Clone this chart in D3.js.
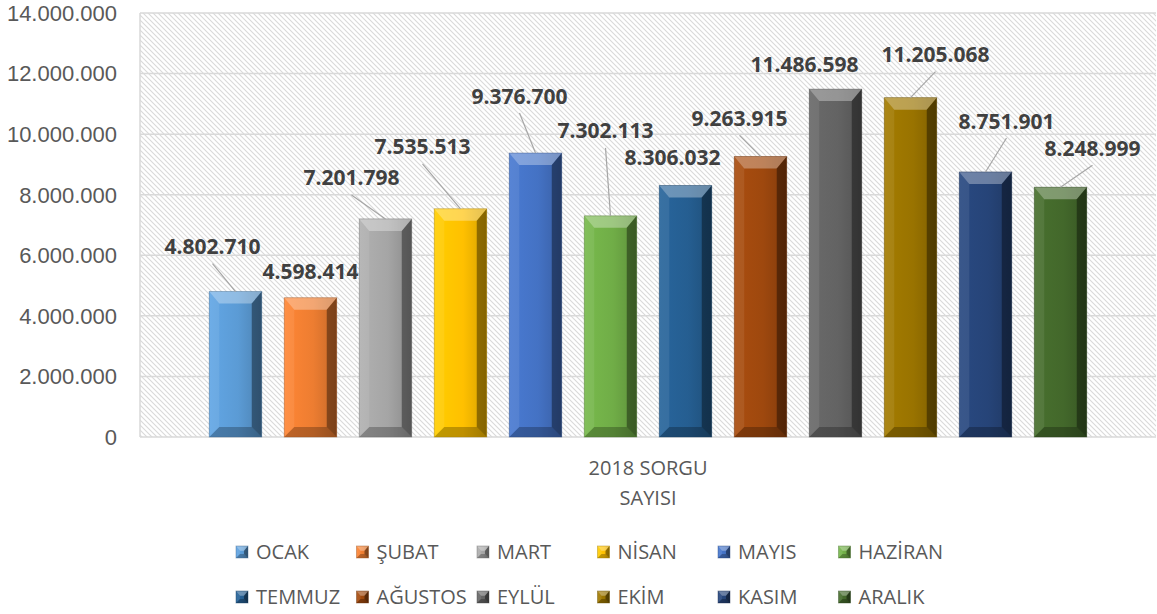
<!DOCTYPE html>
<html>
<head>
<meta charset="utf-8">
<script src="https://cdn.jsdelivr.net/npm/d3@7"></script>
<style>
    body { margin: 0; background: #ffffff; }
    svg { display: block; font-family: "Open Sans", sans-serif; }
</style>
</head>
<body>
<svg id="chart"></svg>
<script>
// Months (one series each) and their 2018 query counts
var months = ["OCAK", "ŞUBAT", "MART", "NİSAN", "MAYIS", "HAZİRAN",
    "TEMMUZ", "AĞUSTOS", "EYLÜL", "EKİM", "KASIM", "ARALIK"];
var values = [4802710, 4598414, 7201798, 7535513, 9376700, 7302113,
    8306032, 9263915, 11486598, 11205068, 8751901, 8248999];
var colors = ["#5b9bd5", "#ed7d31", "#a5a5a5", "#ffc000", "#4472c4", "#70ad47",
    "#255e91", "#9e480e", "#636363", "#997300", "#264478", "#43682b"];
var yTicks = [0, 2000000, 4000000, 6000000, 8000000, 10000000, 12000000, 14000000];
var categoryLines = ["2018 SORGU", "SAYISI"];

// Where each data label sits relative to its bar top, and whether it gets a leader line
var labelOffsets = [[-23, -45], [0, -26], [-34, -41], [-38, -62], [-16, -57], [-5, -85],
    [-13, -28], [-21, -38], [-31, -25], [25, -43], [21, -51], [32, -39]];
var leaderLines = [true, false, true, true, true, true,
    false, true, false, true, true, true];

const width = 1157, height = 614;
const plot = {left: 140, right: 1156, top: 13, bottom: 437};

var svg = d3.select("#chart")
    .attr("width", width)
    .attr("height", height);

// Turkish number format: dots as thousands separator
var trLocale = d3.formatLocale({decimal: ",", thousands: ".", grouping: [3], currency: ["", "₺"]});
var fmt = trLocale.format(",");

var y = d3.scaleLinear()
    .domain([0, 14000000])
    .range([plot.bottom, plot.top]);

var x = d3.scaleBand()
    .domain(months)
    .range([198, 1098])
    .paddingInner(0.3)
    .paddingOuter(0.15);

var defs = svg.append("defs");

// Diagonal hatch for the plot background
var hatch = defs.append("pattern")
    .attr("id", "hatch")
    .attr("patternUnits", "userSpaceOnUse")
    .attr("width", 5)
    .attr("height", 5);
hatch.append("rect").attr("width", 5).attr("height", 5).attr("fill", "#ffffff");
hatch.selectAll("line")
    .data([[0, 0, 5, 5], [-1, 4, 1, 6], [4, -1, 6, 1]])
    .join("line")
    .attr("x1", d => d[0]).attr("y1", d => d[1])
    .attr("x2", d => d[2]).attr("y2", d => d[3])
    .attr("stroke", "#d9d9d9")
    .attr("stroke-width", 1.1);

// Horizontal shading on each bar face
colors.forEach(function(c, i) {
    var g = defs.append("linearGradient")
        .attr("id", "face" + i)
        .attr("x1", 0).attr("x2", 1).attr("y1", 0).attr("y2", 0);
    g.append("stop").attr("offset", "0%").attr("stop-color", d3.color(c).brighter(0.2));
    g.append("stop").attr("offset", "55%").attr("stop-color", c);
    g.append("stop").attr("offset", "100%").attr("stop-color", d3.color(c).darker(0.5));
});

svg.append("rect")
    .attr("x", plot.left)
    .attr("y", plot.top)
    .attr("width", plot.right - plot.left)
    .attr("height", plot.bottom - plot.top)
    .attr("fill", "url(#hatch)");

// Gridlines + left border
svg.selectAll(".grid")
    .data(yTicks)
    .join("line")
    .attr("class", "grid")
    .attr("x1", plot.left)
    .attr("x2", plot.right)
    .attr("y1", d => y(d))
    .attr("y2", d => y(d))
    .attr("stroke", "#d9d9d9")
    .attr("stroke-width", 1.5);

svg.append("line")
    .attr("x1", plot.left).attr("x2", plot.left)
    .attr("y1", plot.top).attr("y2", plot.bottom)
    .attr("stroke", "#d9d9d9")
    .attr("stroke-width", 1.5);

// Y axis labels (Liberation Sans keeps the top label inside the page)
svg.selectAll(".ytick")
    .data(yTicks)
    .join("text")
    .attr("class", "ytick")
    .attr("x", 117)
    .attr("y", d => y(d))
    .attr("dy", "0.36em")
    .attr("text-anchor", "end")
    .attr("font-family", "'Liberation Sans', sans-serif")
    .attr("font-size", 22)
    .attr("fill", "#595959")
    .text(d => fmt(d));

// Draws one bevelled block, used for bars and legend keys
var bevel = function(g, bx, by, bw, bh, b, i) {
    var bt = Math.min(b * 1.2, bh / 2);
    g.append("rect")
        .attr("x", bx).attr("y", by)
        .attr("width", bw).attr("height", bh)
        .attr("fill", "url(#face" + i + ")");
    var faces = [
        {pts: [[bx, by], [bx + bw, by], [bx + bw - b, by + bt], [bx + b, by + bt]], fill: "#ffffff", op: 0.32},
        {pts: [[bx, by], [bx + b, by + bt], [bx + b, by + bh - b], [bx, by + bh]], fill: "#ffffff", op: 0.08},
        {pts: [[bx + bw, by], [bx + bw, by + bh], [bx + bw - b, by + bh - b], [bx + bw - b, by + bt]], fill: "#000000", op: 0.38},
        {pts: [[bx, by + bh], [bx + b, by + bh - b], [bx + bw - b, by + bh - b], [bx + bw, by + bh]], fill: "#000000", op: 0.25}
    ];
    g.selectAll(".bev")
        .data(faces)
        .join("polygon")
        .attr("class", "bev")
        .attr("points", d => d.pts.map(p => p.join(",")).join(" "))
        .attr("fill", d => d.fill)
        .attr("fill-opacity", d => d.op);
    g.append("rect")
        .attr("x", bx).attr("y", by)
        .attr("width", bw).attr("height", bh)
        .attr("fill", "none")
        .attr("stroke", d3.color(colors[i]).darker(1.2))
        .attr("stroke-opacity", 0.5)
        .attr("stroke-width", 0.8);
};

// Bars
months.forEach(function(m, i) {
    var g = svg.append("g").attr("class", "bar");
    var top = y(values[i]);
    bevel(g, x(m), top, x.bandwidth(), plot.bottom - top, 10, i);
});

// Leader lines, then data labels
var labels = months.map(function(m, i) {
    var cx = x(m) + x.bandwidth() / 2;
    var top = y(values[i]);
    return {
        bx: cx, by: top,
        lx: cx + labelOffsets[i][0], ly: top + labelOffsets[i][1],
        line: leaderLines[i], text: fmt(values[i])
    };
});

svg.selectAll(".leader")
    .data(labels.filter(d => d.line))
    .join("line")
    .attr("class", "leader")
    .attr("x1", d => d.lx)
    .attr("y1", d => d.ly + 17)
    .attr("x2", d => d.bx)
    .attr("y2", d => d.by)
    .attr("stroke", "#a6a6a6")
    .attr("stroke-width", 1.2);

svg.selectAll(".dlabel")
    .data(labels)
    .join("text")
    .attr("class", "dlabel")
    .attr("x", d => d.lx)
    .attr("y", d => d.ly)
    .attr("dy", "0.36em")
    .attr("text-anchor", "middle")
    .attr("font-size", 21)
    .attr("font-weight", "bold")
    .attr("fill", "#404040")
    .text(d => d.text);

// Category label under the axis
svg.selectAll(".cat")
    .data(categoryLines)
    .join("text")
    .attr("class", "cat")
    .attr("x", (plot.left + plot.right) / 2)
    .attr("y", (d, i) => 468 + i * 30)
    .attr("dy", "0.36em")
    .attr("text-anchor", "middle")
    .attr("font-size", 20)
    .attr("fill", "#595959")
    .text(d => d);

// Legend, 6 columns x 2 rows
var legend = svg.append("g").attr("class", "legend");
months.forEach(function(m, i) {
    var lx = 236 + (i % 6) * 120.5;
    var ly = 552 + Math.floor(i / 6) * 45;
    var g = legend.append("g");
    bevel(g, lx, ly - 6, 12, 12, 4, i);
    g.append("text")
        .attr("x", lx + 20)
        .attr("y", ly)
        .attr("dy", "0.36em")
        .attr("font-size", 20)
        .attr("fill", "#595959")
        .text(m);
});
</script>
</body>
</html>
